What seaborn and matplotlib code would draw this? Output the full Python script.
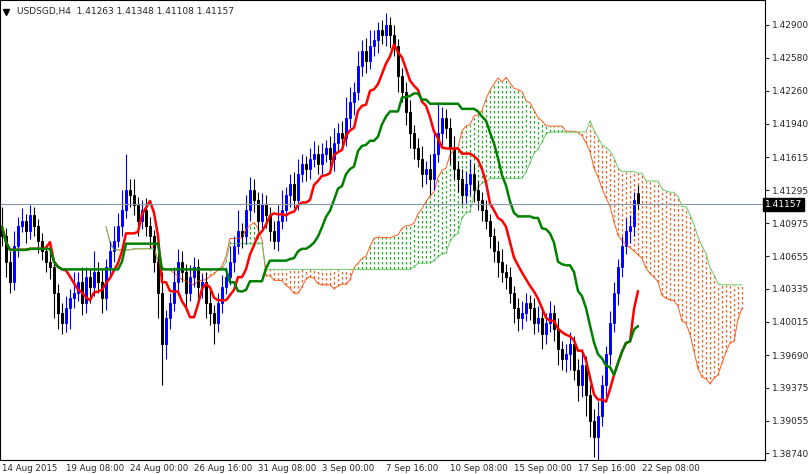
import numpy as np, pandas as pd
import matplotlib
matplotlib.use("Agg")
import matplotlib.pyplot as plt
import seaborn as sns

sns.set_style("white")
plt.rcParams['font.family'] = ['DejaVu Sans']

# closes in pips above 1.4000
close_pips = [85, 60, 40, 75, 95, 100, 90, 105, 95, 80,
              70, 60, 55, 30, 10, 0, 15, 25, 30, 40,
              20, 45, 35, 50, 40, 25, 55, 70, 80, 95,
              110, 130, 125, 115, 100, 110, 95, 85, 60, 30,
              -20, 5, 20, 40, 60, 50, 30, 45, 55, 35,
              40, 20, 10, 0, 20, 35, 45, 60, 75, 90,
              85, 110, 130, 120, 100, 115, 105, 90, 80, 100,
              110, 125, 135, 120, 145, 155, 150, 160, 165, 155,
              165, 170, 160, 175, 185, 180, 200, 215, 225, 250,
              265, 255, 270, 275, 285, 280, 290, 280, 270, 240,
              225, 205, 185, 170, 160, 145, 150, 140, 165, 185,
              200, 190, 170, 150, 140, 125, 135, 145, 130, 120,
              110, 100, 85, 70, 60, 50, 45, 30, 15, 5,
              10, 20, 15, 0, 5, -10, 0, 10, -5, -25,
              -35, -30, -20, -45, -60, -40, -70, -95, -110, -90,
              -60, -30, 0, 30, 55, 75, 90, 95, 120, 116]
wick_hi = [20, 8, 10, 15, 8, 12, 6, 10, 8, 6,
           8, 6, 10, 6, 8, 10, 12, 8, 20, 10,
           15, 10, 8, 20, 10, 12, 8, 10, 15, 12,
           20, 35, 10, 15, 8, 10, 12, 8, 6, 10,
           20, 8, 10, 15, 12, 10, 8, 12, 10, 8,
           8, 10, 12, 8, 10, 12, 10, 15, 10, 20,
           8, 15, 12, 10, 8, 12, 10, 8, 10, 15,
           20, 8, 10, 12, 15, 10, 8, 10, 12, 8,
           10, 8, 12, 15, 10, 12, 20, 15, 10, 15,
           10, 12, 15, 10, 8, 10, 12, 8, 10, 6,
           8, 10, 12, 8, 10, 12, 8, 15, 20, 30,
           10, 8, 10, 12, 8, 10, 12, 15, 10, 8,
           8, 10, 6, 8, 10, 12, 8, 10, 6, 10,
           12, 10, 8, 10, 12, 8, 10, 12, 8, 10,
           8, 10, 12, 8, 10, 15, 8, 10, 12, 15,
           10, 8, 12, 10, 8, 10, 12, 10, 8, 14]
wick_lo = [10, 15, 10, 8, 10, 6, 12, 8, 10, 12,
           8, 10, 12, 25, 15, 10, 8, 20, 10, 8,
           12, 10, 15, 8, 10, 15, 12, 8, 10, 6,
           10, 8, 12, 10, 15, 8, 10, 12, 10, 25,
           40, 15, 10, 8, 12, 10, 15, 8, 10, 12,
           10, 15, 12, 20, 8, 10, 6, 8, 10, 8,
           12, 8, 10, 12, 10, 8, 12, 10, 8, 10,
           8, 10, 12, 8, 10, 8, 12, 10, 8, 10,
           10, 8, 10, 12, 8, 10, 8, 10, 12, 8,
           10, 12, 8, 10, 12, 8, 10, 12, 10, 15,
           10, 12, 15, 10, 8, 12, 10, 15, 10, 8,
           12, 10, 15, 10, 12, 10, 8, 10, 12, 10,
           10, 8, 12, 10, 15, 10, 12, 10, 15, 12,
           10, 8, 12, 10, 8, 15, 10, 8, 12, 15,
           10, 12, 15, 10, 15, 12, 20, 15, 20, 30,
           10, 12, 10, 8, 12, 10, 8, 12, 10, 5]
ytick_labels = ["1.42900", "1.42580", "1.42260", "1.41940", "1.41615", "1.41295", "1.40975",
                "1.40655", "1.40335", "1.40015", "1.39690", "1.39375", "1.39055", "1.38740"]
xtick_labels = ["14 Aug 2015", "19 Aug 08:00", "24 Aug 00:00", "26 Aug 16:00", "31 Aug 08:00",
                "3 Sep 00:00", "7 Sep 16:00", "10 Sep 08:00", "15 Sep 00:00", "17 Sep 16:00", "22 Sep 08:00"]
last_price = 1.41157

c = 1.4 + np.array(close_pips) / 10000.0
o = np.concatenate([[1.4093], c[:-1]])
h = np.maximum(o, c) + np.array(wick_hi) / 10000.0
l = np.minimum(o, c) - np.array(wick_lo) / 10000.0
h[-1] = 1.41348; l[-1] = 1.41108; o[-1] = 1.41263; c[-1] = last_price
n = len(c)
df = pd.DataFrame({"o": o, "h": h, "l": l, "c": c})
H, L = df.h, df.l
tenkan = (H.rolling(9, min_periods=1).max() + L.rolling(9, min_periods=1).min()) / 2
kijun = (H.rolling(26, min_periods=1).max() + L.rolling(26, min_periods=1).min()) / 2
spanA = ((tenkan + kijun) / 2).values
spanB = ((H.rolling(52, min_periods=1).max() + L.rolling(52, min_periods=1).min()) / 2).values
xs_cloud = np.arange(n) + 26

fig = plt.figure(figsize=(8.1, 4.74), dpi=100)
ax = fig.add_axes([0, 14 / 474, 765 / 810, 460 / 474])
GREEN = "#22aa22"; ORANGE = "#ff5a1a"
for x, a, b in zip(xs_cloud, spanA, spanB):
    col = GREEN if a >= b else ORANGE
    ax.vlines(x, min(a, b), max(a, b), colors=col, linestyles=(0, (2, 2)), linewidth=0.9)
ax.plot(xs_cloud, spanA, color=ORANGE, lw=0.7)
ax.plot(xs_cloud, spanB, color="#66cc66", lw=0.7)

for i in range(n):
    up = c[i] >= o[i]
    ax.vlines(i, l[i], h[i], color="blue" if up else "black", lw=0.8)
    ax.bar(i, abs(c[i] - o[i]) or 0.00002, bottom=min(o[i], c[i]), width=0.6,
           color="white" if up else "red", edgecolor="blue" if up else "black", lw=0.7)
sns.lineplot(x=np.arange(n), y=tenkan.values, ax=ax, color="red", lw=1.8)
sns.lineplot(x=np.arange(n), y=kijun.values, ax=ax, color="green", lw=1.8)

ax.axhline(last_price, color="#8899aa", lw=0.8)
ax.set_xlim(-0.5, 190.75)
top = 1.42900 + 25 / 10290; bot = 1.42900 - 435 / 10290
ax.set_ylim(bot, top)
yt = [float(t) for t in ytick_labels]
ax.yaxis.tick_right()
ax.set_yticks(yt, ytick_labels, fontsize=6.5)
ax.set_xticks(np.arange(len(xtick_labels)) * 16, xtick_labels, fontsize=6.2, ha="left")
ax.tick_params(axis="x", length=2, direction="out", pad=1)
ax.tick_params(axis="y", length=3, direction="out", pad=2)
for s in ax.spines.values():
    s.set_color("black"); s.set_linewidth(0.8)
ax.text(1.0, last_price, "1.41157", transform=ax.get_yaxis_transform(), fontsize=6.5,
        color="white", va="center", ha="left",
        bbox=dict(boxstyle="square,pad=0.2", fc="black", ec="black"))
ax.text(0.022, 0.985, "USDSGD,H4  1.41263 1.41348 1.41108 1.41157", transform=ax.transAxes,
        fontsize=6.5, va="top", ha="left")
ax.plot([0.008], [0.975], marker="v", color="black", ms=4, transform=ax.transAxes)
fig.savefig("out.png", dpi=100)
